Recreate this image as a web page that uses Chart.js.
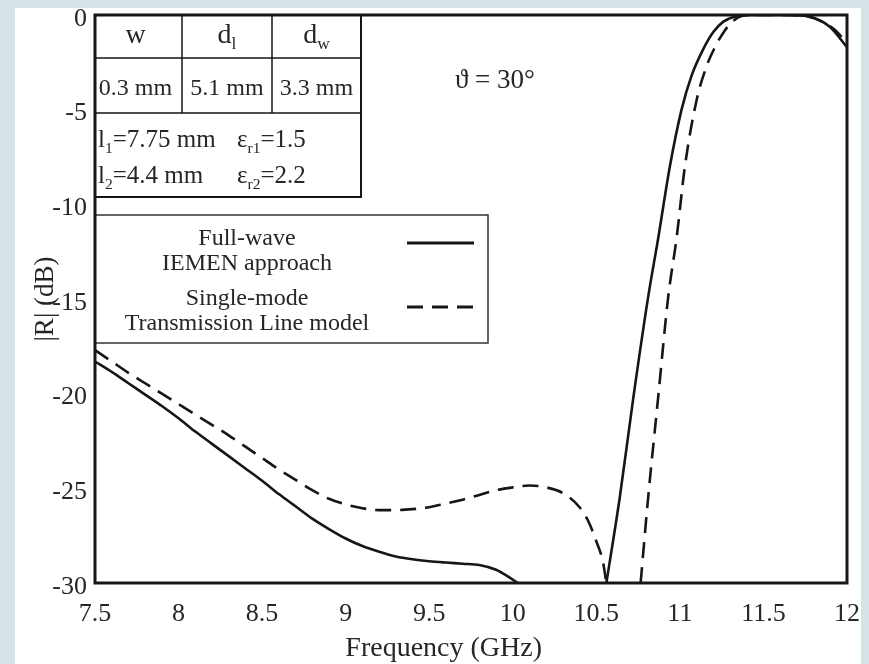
<!DOCTYPE html>
<html>
<head>
<meta charset="utf-8">
<style>
  html, body { margin: 0; padding: 0; background: #d6e1e8; }
  canvas { display: block; }
</style>
<script src="https://cdn.jsdelivr.net/npm/chart.js@4.4.1/dist/chart.umd.min.js"></script>
</head>
<body>
<canvas id="chart" width="869" height="664"></canvas>
<script>
// ── Data ────────────────────────────────────────────────────────────────────
const xTicks = [7.5, 8, 8.5, 9, 9.5, 10, 10.5, 11, 11.5, 12];
const yTicks = [0, -5, -10, -15, -20, -25, -30];

// Full-wave IEMEN approach (solid)
const fullWaveF = [7.5, 7.6, 7.7, 7.8, 7.9, 8.0, 8.1, 8.2, 8.3, 8.4,
    8.5, 8.6, 8.7, 8.8, 8.9, 9.0, 9.1, 9.2, 9.3, 9.4,
    9.5, 9.6, 9.7, 9.8, 9.9, 9.97, 10.03, 10.3,
    10.56, 10.64, 10.72, 10.81, 10.87, 10.94, 11.01, 11.07, 11.14, 11.2, 11.26, 11.32,
    11.4, 11.5, 11.6, 11.7, 11.8, 11.9, 12.0];
const fullWaveDb = [-18.3, -18.85, -19.45, -20.05, -20.65, -21.3, -22.0, -22.65, -23.3, -23.95,
    -24.6, -25.3, -25.95, -26.6, -27.15, -27.65, -28.05, -28.35, -28.6, -28.75,
    -28.85, -28.92, -28.98, -29.05, -29.3, -29.65, -30, null,
    -30, -25.5, -20.3, -14.9, -11.8, -8.0, -5.0, -3.2, -1.8, -0.9, -0.35, -0.1,
    0, 0, 0, -0.02, -0.15, -0.65, -1.7];

// Single-mode Transmission Line model (dashed)
const tlF = [7.5, 7.6, 7.7, 7.8, 7.9, 8.0, 8.1, 8.2, 8.3, 8.4,
    8.5, 8.6, 8.7, 8.8, 8.9, 9.0, 9.1, 9.2, 9.3, 9.4,
    9.5, 9.6, 9.7, 9.8, 9.9, 10.0, 10.1, 10.2, 10.3, 10.4,
    10.45, 10.5, 10.54, 10.56, 10.65,
    10.765, 10.81, 10.87, 10.93, 10.98, 11.03, 11.1, 11.16, 11.21, 11.27, 11.32, 11.37,
    11.45, 11.55, 11.65, 11.75, 11.85, 11.93, 12.0];
const tlDb = [-17.7, -18.3, -18.9, -19.45, -20.0, -20.55, -21.1, -21.65, -22.2, -22.8,
    -23.4, -24.0, -24.55, -25.1, -25.55, -25.85, -26.05, -26.15, -26.15, -26.1,
    -26.0, -25.8, -25.6, -25.35, -25.1, -24.95, -24.85, -24.95, -25.25, -26.0,
    -26.7, -27.8, -28.9, -30, null,
    -30, -25.5, -20.2, -14.9, -11.8, -8.0, -4.5, -2.7, -1.7, -0.8, -0.3, -0.05,
    0, 0, 0, -0.05, -0.35, -0.8, -1.5];

const SERIF = "'Liberation Serif', 'Times New Roman', serif";
const INK = '#161616';
const TEXT = '#262626';

const toPoints = (xs, ys) => xs.map((x, i) => ({ x, y: ys[i] }));

// ── Decorations: panel, frame, parameter table, legend, angle ───────────────
function txt(ctx, s, x, y, size, align = 'left') {
    ctx.font = `${size}px ${SERIF}`;
    ctx.textAlign = align;
    ctx.textBaseline = 'alphabetic';
    ctx.fillText(s, x, y);
    return ctx.measureText(s).width;
}

// main text followed by a lowered subscript, drawn left to right
function subTxt(ctx, parts, x, y, size) {
    let cx = x;
    for (const [s, sub] of parts) {
        cx += txt(ctx, s, cx, sub ? y + size * 0.22 : y, sub ? size * 0.62 : size);
    }
    return cx - x;
}

function centeredSub(ctx, parts, cx, y, size) {
    ctx.save();
    ctx.globalAlpha = 0;
    const w = subTxt(ctx, parts, 0, -1000, size);
    ctx.restore();
    subTxt(ctx, parts, cx - w / 2, y, size);
}

const decorations = {
    id: 'decorations',
    beforeDraw(chart) {
        const { ctx, width, height } = chart;
        ctx.save();
        ctx.fillStyle = '#d6e1e8';
        ctx.fillRect(0, 0, width, height);
        ctx.fillStyle = '#ffffff';
        ctx.fillRect(15, 8, 846, height - 8);
        ctx.restore();
    },
    afterDatasetsDraw(chart) {
        const { ctx, chartArea: a } = chart;
        const L = a.left, T = a.top;
        ctx.save();
        ctx.fillStyle = TEXT;
        ctx.strokeStyle = INK;

        // parameter table
        const tr = L + 266, tb = T + 182, r1 = T + 43, r2 = T + 98;
        const c1 = L + 87, c2 = L + 177;
        ctx.fillStyle = '#ffffff';
        ctx.fillRect(L, T, tr - L, tb - T);
        ctx.fillStyle = TEXT;
        ctx.lineWidth = 2;
        ctx.beginPath();
        ctx.moveTo(tr, T); ctx.lineTo(tr, tb); ctx.lineTo(L, tb);
        ctx.stroke();
        ctx.lineWidth = 1.5;
        ctx.beginPath();
        ctx.moveTo(L, r1); ctx.lineTo(tr, r1);
        ctx.moveTo(L, r2); ctx.lineTo(tr, r2);
        ctx.moveTo(c1, T); ctx.lineTo(c1, r2);
        ctx.moveTo(c2, T); ctx.lineTo(c2, r2);
        ctx.stroke();

        const m1 = (L + c1) / 2, m2 = (c1 + c2) / 2, m3 = (c2 + tr) / 2;
        txt(ctx, 'w', m1 - 3, T + 28, 28, 'center');
        centeredSub(ctx, [['d', false], ['l', true]], m2, T + 28, 28);
        centeredSub(ctx, [['d', false], ['w', true]], m3, T + 28, 28);
        txt(ctx, '0.3 mm', m1 - 3, T + 80, 24, 'center');
        txt(ctx, '5.1 mm', m2, T + 80, 24, 'center');
        txt(ctx, '3.3 mm', m3, T + 80, 24, 'center');
        subTxt(ctx, [['l', false], ['1', true], ['=7.75 mm', false]], L + 3, T + 132, 25);
        subTxt(ctx, [['ε', false], ['r1', true], ['=1.5', false]], L + 142, T + 132, 25);
        subTxt(ctx, [['l', false], ['2', true], ['=4.4 mm', false]], L + 3, T + 168, 25);
        subTxt(ctx, [['ε', false], ['r2', true], ['=2.2', false]], L + 142, T + 168, 25);

        // legend box
        const lt = T + 200, lb = T + 328, lr = L + 393;
        ctx.fillStyle = '#ffffff';
        ctx.fillRect(L, lt, lr - L, lb - lt);
        ctx.strokeStyle = '#333333';
        ctx.lineWidth = 1.5;
        ctx.strokeRect(L, lt, lr - L, lb - lt);
        ctx.fillStyle = TEXT;
        const lc = L + 152;
        txt(ctx, 'Full-wave', lc, lt + 30, 24, 'center');
        txt(ctx, 'IEMEN approach', lc, lt + 55, 24, 'center');
        txt(ctx, 'Single-mode', lc, lt + 90, 24, 'center');
        txt(ctx, 'Transmission Line model', lc, lt + 115, 24, 'center');
        chart.data.datasets.forEach((ds, i) => {
            const y = lt + (i === 0 ? 28 : 92);
            ctx.strokeStyle = ds.borderColor;
            ctx.lineWidth = 3;
            ctx.setLineDash(ds.borderDash || []);
            ctx.beginPath();
            ctx.moveTo(L + 312, y); ctx.lineTo(L + 379, y);
            ctx.stroke();
        });
        ctx.setLineDash([]);

        // incidence angle
        ctx.fillStyle = TEXT;
        txt(ctx, 'ϑ = 30°', L + 360, T + 73, 27);

        // x axis title sits left of the axis centre in the original
        ctx.font = `28px ${SERIF}`;
        ctx.textAlign = 'right';
        ctx.textBaseline = 'middle';
        ctx.fillText('Frequency (GHz)', L + 447, a.bottom + 66);

        // plot frame
        ctx.strokeStyle = INK;
        ctx.lineWidth = 3;
        ctx.strokeRect(a.left, a.top, a.right - a.left, a.bottom - a.top);
        ctx.restore();
    }
};

// ── Chart ───────────────────────────────────────────────────────────────────
// tick padding also widens the side padding of the axis, so the x labels are
// pushed down with a tall line height instead
const xTickFont = { family: SERIF, size: 26, lineHeight: 2.38 };
const yTickFont = { family: SERIF, size: 26, lineHeight: 0.5 };

new Chart(document.getElementById('chart'), {
    type: 'line',
    data: {
        datasets: [
            {
                label: 'Full-wave IEMEN approach',
                data: toPoints(fullWaveF, fullWaveDb),
                borderColor: INK,
                borderWidth: 2.6,
                pointRadius: 0,
                cubicInterpolationMode: 'monotone',
            },
            {
                label: 'Single-mode Transmission Line model',
                data: toPoints(tlF, tlDb),
                borderColor: INK,
                borderWidth: 2.6,
                borderDash: [16, 9],
                pointRadius: 0,
                cubicInterpolationMode: 'monotone',
            },
        ],
    },
    options: {
        responsive: false,
        animation: false,
        layout: { padding: { left: 0, right: 22, top: 15, bottom: 0 } },
        plugins: { legend: { display: false }, tooltip: { enabled: false } },
        scales: {
            x: {
                type: 'linear',
                min: 7.5,
                max: 12,
                afterBuildTicks: s => { s.ticks = xTicks.map(v => ({ value: v })); },
                afterFit: s => { s.height = 81; },
                grid: { display: false, drawTicks: false },
                border: { display: false },
                ticks: { font: xTickFont, color: TEXT, padding: 0, maxRotation: 0, autoSkip: false, callback: v => String(v) },
                title: { display: false },
            },
            y: {
                type: 'linear',
                min: -30,
                max: 0,
                afterBuildTicks: s => { s.ticks = yTicks.map(v => ({ value: v })); },
                afterFit: s => { s.width = 95; },
                grid: { display: false, drawTicks: false },
                border: { display: false },
                ticks: { font: yTickFont, color: TEXT, padding: 8, labelOffset: 4, autoSkip: false, callback: v => String(v) },
                title: { display: true, text: '|R| (dB)', color: TEXT, font: { family: SERIF, size: 27, lineHeight: 1.2 }, padding: { top: 30, bottom: 0 } },
            },
        },
    },
    plugins: [decorations],
});
</script>
</body>
</html>
